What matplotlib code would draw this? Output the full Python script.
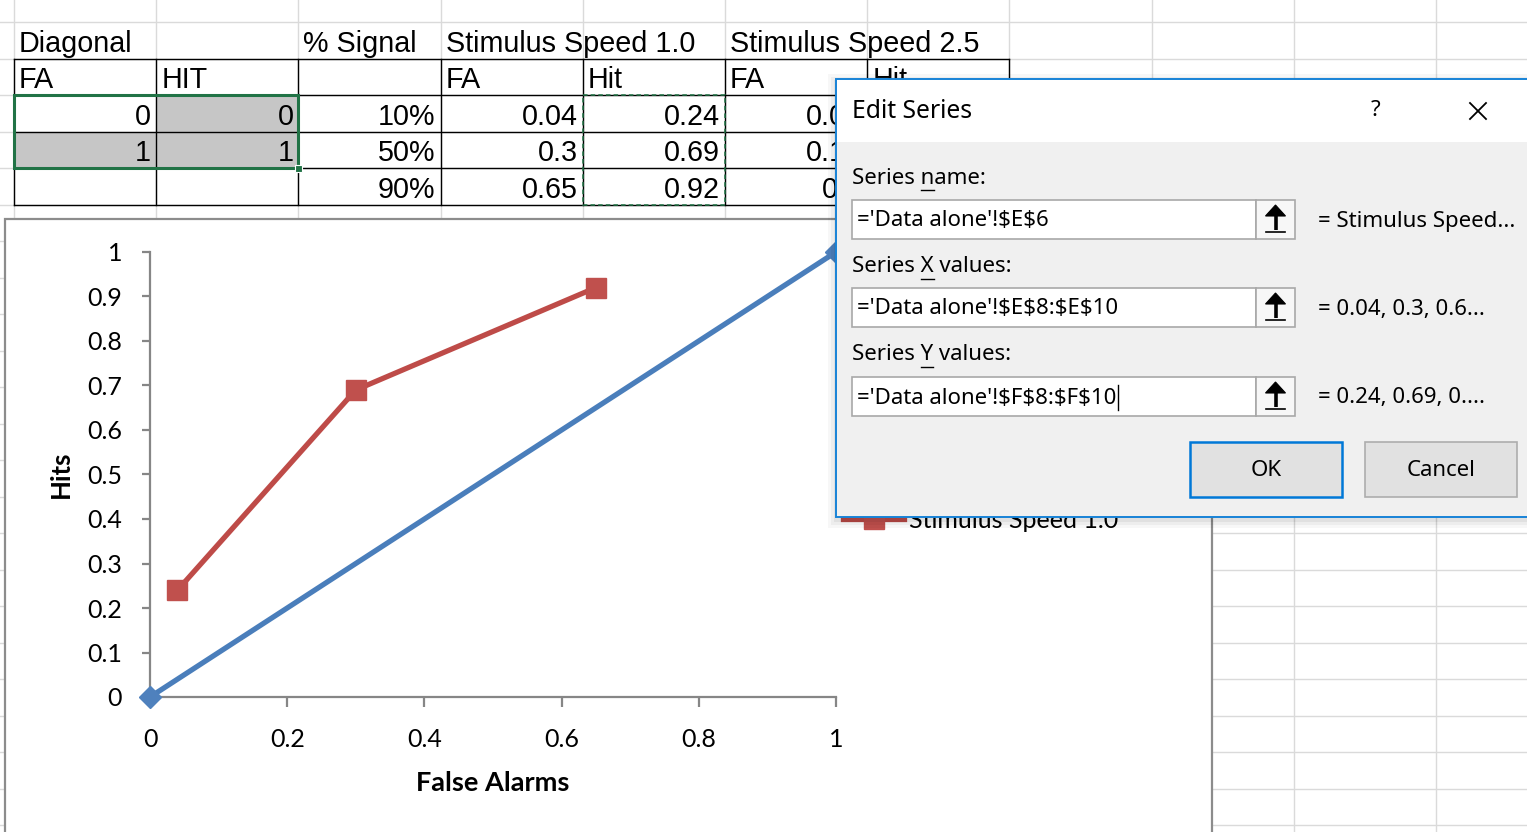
import matplotlib
matplotlib.use('Agg')
import matplotlib.pyplot as plt
from matplotlib.patches import Rectangle, Polygon

# sheet values
diag_fa = [0, 1]
diag_hit = [0, 1]
pct_signal = ['10%', '50%', '90%']
speed1_fa = [0.04, 0.3, 0.65]
speed1_hit = [0.24, 0.69, 0.92]
speed25_fa = [0.03, 0.15, 0.5]   # mostly hidden behind the dialog

header1 = ['Diagonal', '', '% Signal', 'Stimulus Speed 1.0', '', 'Stimulus Speed 2.5', '']
header2 = ['FA', 'HIT', '', 'FA', 'Hit', 'FA', 'Hit']

xticks = [0, 0.2, 0.4, 0.6, 0.8, 1]
xtick_labels = ['0', '0.2', '0.4', '0.6', '0.8', '1']
yticks = [0, 0.1, 0.2, 0.3, 0.4, 0.5, 0.6, 0.7, 0.8, 0.9, 1]
ytick_labels = ['0', '0.1', '0.2', '0.3', '0.4', '0.5', '0.6', '0.7', '0.8', '0.9', '1']

# dialog texts
dlg_title = 'Edit Series'
dlg_labels = [('Series ', 'n', 'ame:'), ('Series ', 'X', ' values:'), ('Series ', 'Y', ' values:')]
dlg_refs = ["='Data alone'!$E$6", "='Data alone'!$E$8:$E$10", "='Data alone'!$F$8:$F$10"]
dlg_previews = ['= Stimulus Speed...', '= 0.04, 0.3, 0.6...', '= 0.24, 0.69, 0....']

W, H = 1527, 832
fig = plt.figure(figsize=(W / 100, H / 100), dpi=100)

cell_font = 'Liberation Sans'
chart_font = 'Lato'
ui_font = 'Noto Sans'
ui_size = 16
dlg_left = 836

# ---- spreadsheet underneath ----
sheet = fig.add_axes([0, 0, 1, 1])
sheet.set_xlim(0, W)
sheet.set_ylim(H, 0)
sheet.axis('off')

col_w = 142.2
col_x = [14 + col_w * i for i in range(11)]
row_h = 36.5
row_y = [22 + row_h * i for i in range(23)]
grid = '#dadada'
for x in col_x:
    sheet.plot([x, x], [0, H], color=grid, lw=1, zorder=0)
for y in row_y:
    sheet.plot([0, W], [y, y], color=grid, lw=1, zorder=0)

# selection fill
for c, r in [(1, 2), (0, 3), (1, 3)]:
    sheet.add_patch(Rectangle((col_x[c], row_y[r]), col_w, row_h, fc='#c6c6c6', ec='none', zorder=1))

# table borders
for r in range(1, 6):
    sheet.plot([col_x[0], col_x[7]], [row_y[r], row_y[r]], color='black', lw=1, zorder=2)
for c in range(8):
    sheet.plot([col_x[c], col_x[c]], [row_y[1], row_y[5]], color='black', lw=1, zorder=2)

# cells under the dialog get cut at its left edge
cut = Rectangle((0, 0), dlg_left, H, transform=sheet.transData, fc='none', ec='none')


def cell_text(c, r, s, right=False):
    y = row_y[r] + row_h / 2 + 3.5
    if right:
        t = sheet.text(col_x[c + 1] - 5, y, s, ha='right', va='center',
                       fontsize=20.7, family=cell_font, zorder=3)
    else:
        t = sheet.text(col_x[c] + 5, y, s, ha='left', va='center',
                       fontsize=20.7, family=cell_font, zorder=3)
    if r >= 2 and col_x[c + 1] > dlg_left:
        t.set_clip_path(cut)
    return t


for c, s in enumerate(header1):
    if s:
        cell_text(c, 0, s)
for c, s in enumerate(header2):
    if s:
        cell_text(c, 1, s)
for i in range(len(diag_fa)):
    cell_text(0, 2 + i, '%g' % diag_fa[i], True)
    cell_text(1, 2 + i, '%g' % diag_hit[i], True)
for i in range(3):
    cell_text(2, 2 + i, pct_signal[i], True)
    cell_text(3, 2 + i, '%g' % speed1_fa[i], True)
    cell_text(4, 2 + i, '%g' % speed1_hit[i], True)
    cell_text(5, 2 + i, '%g' % speed25_fa[i], True)

# active selection box + copy marquee
sheet.add_patch(Rectangle((col_x[0], row_y[2]), 2 * col_w, 2 * row_h, fc='none', ec='#217346', lw=2.2, zorder=4))
sheet.add_patch(Rectangle((col_x[2] - 3.5, row_y[4] - 3.5), 7, 7, fc='#217346', ec='white', lw=0.8, zorder=4))
sheet.add_patch(Rectangle((col_x[4], row_y[2]), col_w, 3 * row_h, fc='none', ec='#217346', lw=1.1,
                          ls=(0, (3, 2)), zorder=4))

# chart area
sheet.add_patch(Rectangle((5, 219), 1207, 700, fc='white', ec='#8c8c8c', lw=1.6, zorder=5))

# ---- the chart ----
ax = fig.add_axes([150 / W, (H - 697) / H, 686 / W, 445 / H])
ax.set_zorder(2)
ax.patch.set_alpha(0)
ax.plot(diag_fa, diag_hit, color='#4A7EBB', lw=3.8, marker='D', ms=11.5, mfc='#4F81BD', mec='#4F81BD',
        clip_on=False, label='Diagonal', zorder=3)
ax.plot(speed1_fa, speed1_hit, color='#BE4B48', lw=3.8, marker='s', ms=15, mfc='#C0504D', mec='#C0504D',
        clip_on=False, label='Stimulus Speed 1.0', zorder=4)
ax.set_xlim(0, 1)
ax.set_ylim(0, 1)
for s in ['top', 'right']:
    ax.spines[s].set_visible(False)
for s in ['left', 'bottom']:
    ax.spines[s].set_color('#868686')
    ax.spines[s].set_linewidth(1.6)
ax.set_xticks(xticks)
ax.set_xticklabels(xtick_labels, family=chart_font, fontsize=18)
ax.set_yticks(yticks)
ax.set_yticklabels(ytick_labels, family=chart_font, fontsize=18)
ax.tick_params(axis='x', direction='out', length=7, width=1.6, color='#868686', pad=15)
ax.tick_params(axis='y', direction='out', length=6, width=1.6, color='#868686', pad=14)
ax.set_xlabel('False Alarms', family=chart_font, fontsize=19.5, fontweight='bold', labelpad=15)
ax.set_ylabel('Hits', family=chart_font, fontsize=18.5, fontweight='bold', labelpad=10)
ax.legend(loc='center left', bbox_to_anchor=(843 / W, 1 - 503 / H), bbox_transform=fig.transFigure,
          frameon=False, prop={'family': chart_font, 'size': 18}, handlelength=2.45, handletextpad=0.2,
          labelspacing=0.45, borderpad=0, borderaxespad=0)

# ---- Edit Series dialog ----
dlg = fig.add_axes([0, 0, 1, 1])
dlg.set_zorder(3)
dlg.patch.set_alpha(0)
dlg.set_xlim(0, W)
dlg.set_ylim(H, 0)
dlg.axis('off')

for k, a in enumerate([0.05, 0.04, 0.03]):
    d = 2 + 3 * k
    dlg.add_patch(Rectangle((dlg_left - d, 79 - d + 3), W, 438 + 2 * d, fc='black', ec='none', alpha=a))
dlg.add_patch(Rectangle((dlg_left, 79), W, 438, fc='#f0f0f0', ec='#1883d7', lw=1.4))
dlg.add_patch(Rectangle((dlg_left + 1, 80), W, 62, fc='white', ec='none'))
dlg.text(852, 111, dlg_title, family=ui_font, fontsize=17.8, va='center', ha='left')
dlg.text(1376, 111, '?', family=ui_font, fontsize=16, va='center', ha='center')
dlg.plot([1470, 1486], [103, 119], color='black', lw=1.3)
dlg.plot([1470, 1486], [119, 103], color='black', lw=1.3)

fig.canvas.draw()
rend = fig.canvas.get_renderer()
inv = dlg.transData.inverted()


def right_edge(s, y):
    # x position where a string drawn from x=852 ends
    t = dlg.text(852, y, s, family=ui_font, fontsize=ui_size, va='center', ha='left', parse_math=False)
    x = inv.transform((t.get_window_extent(rend).x1, 0))[0]
    t.remove()
    return x


label_y = [178, 267, 355]
box_top = [200, 288, 377]
for i in range(3):
    pre, key, post = dlg_labels[i]
    x0 = right_edge(pre, label_y[i])
    x1 = right_edge(pre + key, label_y[i])
    dlg.text(852, label_y[i], pre + key + post, family=ui_font, fontsize=ui_size, va='center', ha='left')
    dlg.plot([x0, x1], [label_y[i] + 12, label_y[i] + 12], color='black', lw=1)

    y0 = box_top[i]
    dlg.add_patch(Rectangle((852, y0), 404, 39, fc='white', ec='#a8a8a8', lw=1.2))
    dlg.add_patch(Rectangle((1256, y0), 39, 39, fc='#f7f7f7', ec='#a8a8a8', lw=1.2))
    # collapse-dialog arrow
    dlg.plot([1275.5, 1275.5], [y0 + 12, y0 + 30], color='black', lw=2.6, solid_capstyle='butt')
    dlg.add_patch(Polygon([(1265.5, y0 + 16), (1285.5, y0 + 16), (1275.5, y0 + 5)], closed=True,
                          fc='black', ec='black', lw=0.8))
    dlg.plot([1266, 1285], [y0 + 32, y0 + 32], color='black', lw=1.2)
    dlg.text(857, y0 + 21, dlg_refs[i], family=ui_font, fontsize=ui_size, va='center', ha='left',
             parse_math=False)
    dlg.text(1318, y0 + 21, dlg_previews[i], family=ui_font, fontsize=ui_size, va='center', ha='left')
    if i == 2:
        xe = right_edge(dlg_refs[i], y0 + 21) + 5
        dlg.plot([xe + 2, xe + 2], [y0 + 8, y0 + 33], color='black', lw=1)

dlg.add_patch(Rectangle((1190, 442), 152, 55, fc='#e1e1e1', ec='#0078d7', lw=1.8))
dlg.text(1266, 470, 'OK', family=ui_font, fontsize=ui_size, ha='center', va='center')
dlg.add_patch(Rectangle((1365, 442), 152, 55, fc='#e1e1e1', ec='#adadad', lw=1.2))
dlg.text(1441, 470, 'Cancel', family=ui_font, fontsize=ui_size, ha='center', va='center')

fig.savefig('out.png', dpi=100)
